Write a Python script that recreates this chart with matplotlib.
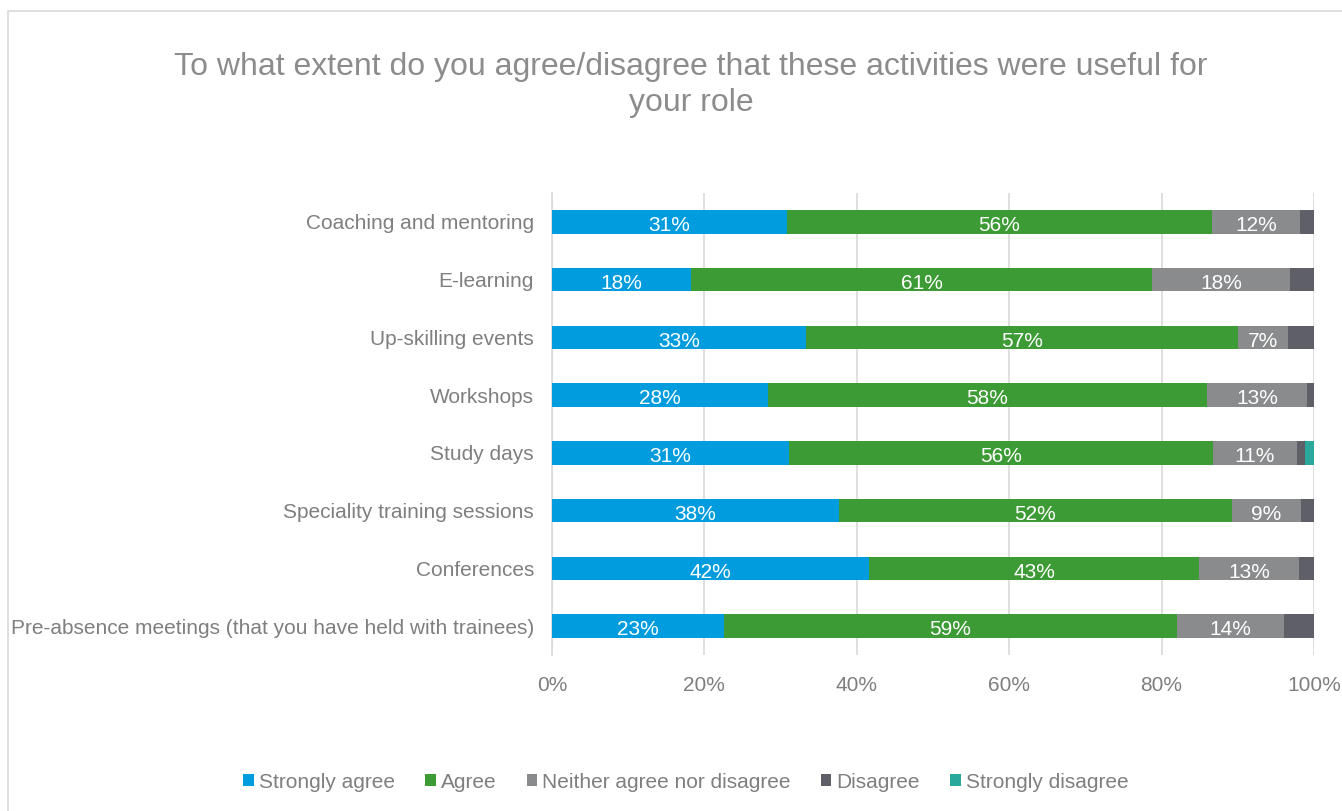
import matplotlib
matplotlib.use("Agg")
import matplotlib.pyplot as plt
from matplotlib.patches import Rectangle

plt.rcParams['font.family'] = ['Liberation Sans', 'DejaVu Sans']

categories = [
    "Coaching and mentoring",
    "E-learning",
    "Up-skilling events",
    "Workshops",
    "Study days",
    "Speciality training sessions",
    "Conferences",
    "Pre-absence meetings (that you have held with trainees)",
]
series_names = ["Strongly agree", "Agree", "Neither agree nor disagree", "Disagree", "Strongly disagree"]
strongly_agree = [30.8, 18.2, 33.3, 28.3, 31.1, 37.6, 41.6, 22.6]
agree = [55.8, 60.6, 56.7, 57.6, 55.6, 51.6, 43.3, 59.4]
neither = [11.6, 18.1, 6.6, 13.2, 11.1, 9.1, 13.1, 14.0]
disagree = [1.8, 3.1, 3.4, 0.9, 1.0, 1.7, 2.0, 4.0]
strongly_disagree = [0, 0, 0, 0, 1.2, 0, 0, 0]
xticks = [0, 20, 40, 60, 80, 100]
xtick_labels = ["0%", "20%", "40%", "60%", "80%", "100%"]
title = "To what extent do you agree/disagree that these activities were useful for\nyour role"

colors = ["#009CDE", "#3D9B35", "#8A8B8D", "#5F6067", "#2BA89C"]
show_labels = [True, True, True, False, False]
text_gray = "#7F7F7F"

fig = plt.figure(figsize=(13.42, 8.11), dpi=100)
fig.patches.append(Rectangle((8/1342, -0.01), 1.02, 1 - 11/811 + 0.01, transform=fig.transFigure,
                             fill=False, edgecolor="#D9D9D9", linewidth=1.2, zorder=0))
ax = fig.add_axes([552/1342, 1 - 655/811, (1314-552)/1342, (655-193)/811])

data = [strongly_agree, agree, neither, disagree, strongly_disagree]
ypos = list(range(len(categories)))
left = [0.0] * len(categories)
for name, vals, col, lab in zip(series_names, data, colors, show_labels):
    bars = ax.barh(ypos, vals, left=left, height=0.41, color=col, label=name, zorder=3)
    if lab:
        for b, v in zip(bars, vals):
            ax.text(b.get_x() + b.get_width() / 2, b.get_y() + b.get_height() / 2 + 0.03, f"{v:.0f}%",
                    ha="center", va="center_baseline", color="white", fontsize=15, zorder=4)
    left = [l + v for l, v in zip(left, vals)]

ax.set_xlim(0, 100)
ax.set_ylim(len(categories) - 0.5, -0.5)
ax.set_yticks(ypos)
ax.set_yticklabels(categories, fontsize=15, color=text_gray)
ax.set_xticks(xticks)
ax.set_xticklabels(xtick_labels, fontsize=15, color=text_gray)
ax.tick_params(axis="both", length=0)
ax.tick_params(axis="y", pad=13)
ax.tick_params(axis="x", pad=15)
for s in ["top", "right", "bottom"]:
    ax.spines[s].set_visible(False)
ax.spines["left"].set_color("#D9D9D9")
ax.spines["left"].set_linewidth(1.2)
ax.grid(axis="x", color="#D9D9D9", linewidth=1.2, zorder=0)
ax.set_axisbelow(True)

fig.text(691/1342, 1 - 85/811, title, ha="center", va="center", fontsize=23, color="#8C8C8C",
         linespacing=1.25)

handles, labels = ax.get_legend_handles_labels()
leg = fig.legend(handles, labels, loc="center", bbox_to_anchor=(686/1342, 1 - 782/811), ncol=5,
                 frameon=False, fontsize=15, handlelength=0.5, handleheight=0.5, handletextpad=0.25,
                 columnspacing=1.45, labelcolor=text_gray)

fig.savefig("out.png", dpi=100, facecolor="white")
